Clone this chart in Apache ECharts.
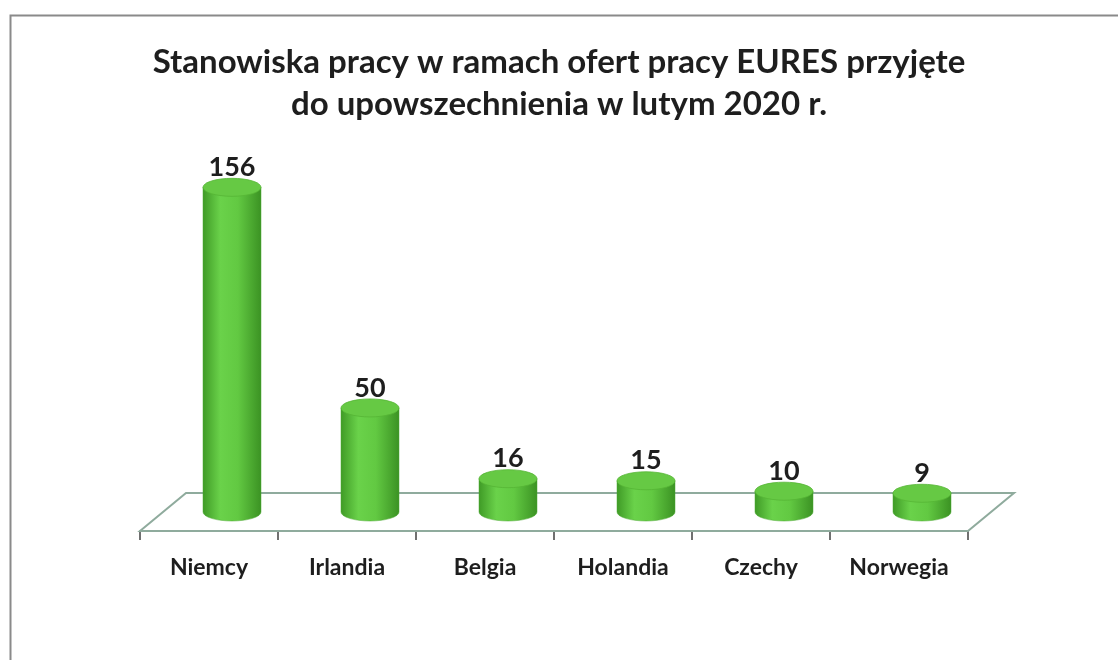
<!DOCTYPE html>
<html>
<head>
<meta charset="utf-8">
<script src="https://cdn.jsdelivr.net/npm/echarts@6/dist/echarts.min.js"></script>
<style>html,body{margin:0;padding:0;background:#fff;}#c{width:1118px;height:660px;}</style>
</head>
<body>
<div id="c"></div>
<script>
const categories = ['Niemcy', 'Irlandia', 'Belgia', 'Holandia', 'Czechy', 'Norwegia'];
const values = [156, 50, 16, 15, 10, 9];
const titleText = 'Stanowiska pracy w ramach ofert pracy EURES przyjęte\ndo upowszechnienia w lutym 2020 r.';

const FONT = 'Lato, "Open Sans", "Noto Sans", sans-serif';
const DX = 23, DY = -19, RX = 29, RY = 9;

const chart = echarts.init(document.getElementById('c'), null, {renderer: 'canvas'});

function cylinder(params, api) {
  const i = api.value(0), v = api.value(1);
  const base = api.coord([i, 0]);
  const top = api.coord([i, v]);
  const cx = base[0] + DX, by = base[1] + DY, ty = top[1] + DY;
  const l = cx - RX, r = cx + RX;
  const bodyPath = `M${l},${ty} L${l},${by} A${RX},${RY} 0 0 0 ${r},${by} L${r},${ty} Z`;
  const topPath = `M${l},${ty} A${RX},${RY} 0 1 1 ${r},${ty} A${RX},${RY} 0 1 1 ${l},${ty} Z`;
  const grad = new echarts.graphic.LinearGradient(0, 0, 1, 0, [
    {offset: 0, color: '#3f9a26'},
    {offset: 0.3, color: '#6ad24a'},
    {offset: 0.6, color: '#62c942'},
    {offset: 1, color: '#3b9223'}
  ]);
  return {
    type: 'group',
    children: [
      {type: 'path', shape: {pathData: bodyPath}, style: {fill: grad, stroke: '#4aa830', lineWidth: 0.5}},
      {type: 'path', shape: {pathData: topPath}, style: {fill: '#66c944', stroke: '#55b535', lineWidth: 0.8}},
      {type: 'text', style: {text: String(v), x: cx, y: ty - 20, align: 'center', verticalAlign: 'middle',
        font: 'bold 27px ' + FONT, fill: '#1e1e1e'}}
    ]
  };
}

function floor(params, api) {
  const cs = params.coordSys;
  const x0 = cs.x, x1 = cs.x + cs.width, y = cs.y + cs.height;
  const ox = 2 * DX, oy = 2 * DY;
  return {
    type: 'polygon',
    shape: {points: [[x0, y], [x0 + ox, y + oy], [x1 + ox, y + oy], [x1, y]]},
    style: {fill: '#ffffff', stroke: '#8fab9d', lineWidth: 2}
  };
}

const option = {
  backgroundColor: '#ffffff',
  animation: false,
  graphic: [{
    type: 'rect', left: 8, top: 13, shape: {width: 1200, height: 700},
    style: {fill: 'none', stroke: '#8a8a8a', lineWidth: 2}, z: -10
  }],
  title: {
    text: titleText,
    left: 'center',
    top: 36,
    textStyle: {fontFamily: FONT, fontSize: 33, fontWeight: 'bold', color: '#1e1e1e', lineHeight: 42}
  },
  grid: {left: 140, right: 150, top: 198, bottom: 129},
  xAxis: {
    type: 'category',
    data: categories,
    axisLine: {show: true, lineStyle: {color: '#8fab9d', width: 2}},
    axisTick: {show: true, length: 9, lineStyle: {color: '#707070', width: 2}},
    axisLabel: {margin: 25, fontFamily: FONT, fontSize: 23, fontWeight: 'bold', color: '#1e1e1e'}
  },
  yAxis: {type: 'value', min: 0, max: 160, show: false},
  series: [
    {type: 'custom', renderItem: floor, data: [[0, 0]], z: 1, silent: true},
    {type: 'custom', renderItem: cylinder, data: values.map((v, i) => [i, v]), z: 3}
  ]
};
chart.setOption(option);
</script>
</body>
</html>
